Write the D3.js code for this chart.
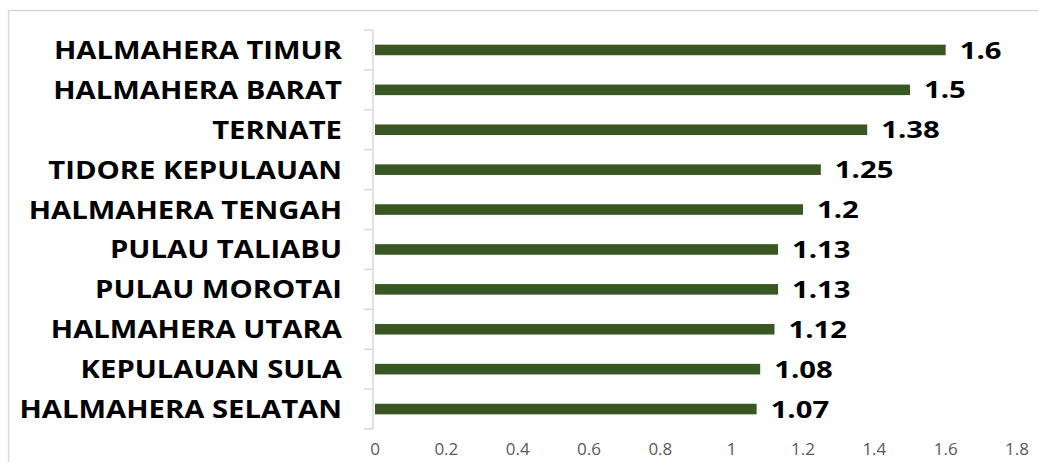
<!DOCTYPE html>
<html>
<head>
<meta charset="utf-8">
<script src="https://cdn.jsdelivr.net/npm/d3@7"></script>
<style>
  html, body { margin: 0; padding: 0; background: #fff; }
  svg { display: block; }
</style>
</head>
<body>
<div id="chart"></div>
<script>
// data, top to bottom
var regions = ["HALMAHERA TIMUR", "HALMAHERA BARAT", "TERNATE", "TIDORE KEPULAUAN", "HALMAHERA TENGAH",
  "PULAU TALIABU", "PULAU MOROTAI", "HALMAHERA UTARA", "KEPULAUAN SULA", "HALMAHERA SELATAN"];
var values = [1.6, 1.5, 1.38, 1.25, 1.2, 1.13, 1.13, 1.12, 1.08, 1.07];
var valueLabels = ["1.6", "1.5", "1.38", "1.25", "1.2", "1.13", "1.13", "1.12", "1.08", "1.07"];
var xTicks = [0, 0.2, 0.4, 0.6, 0.8, 1, 1.2, 1.4, 1.6, 1.8];

var W = 1038, H = 462,
  m = {left: 375, top: 30, right: 21, bottom: 33},
  catStretch = 1.17,   // the source labels are drawn wide
  valStretch = 1.22;

var svg = d3.select("#chart").append("svg").attr("width", W).attr("height", H);

// chart area border (runs off the picture on the right and bottom)
svg.append("rect").attr("x", 8.5).attr("y", 10.5).attr("width", W).attr("height", H)
  .style("fill", "none").style("stroke", "#d9d9d9").style("stroke-width", 1.5);

var x = d3.scaleLinear().domain([0, 1.8]).range([m.left, W - m.right]);
var y = d3.scaleBand().domain(regions).range([m.top, H - m.bottom]).paddingInner(0.735).paddingOuter(0.3675);

var bandStep = y.step();

// vertical axis line + ticks at band borders
var g = svg.append("g");
g.append("line").attr("x1", m.left - 2).attr("x2", m.left - 2)
  .attr("y1", m.top).attr("y2", H - m.bottom)
  .style("stroke", "#d9d9d9").style("stroke-width", 1.5);
d3.range(regions.length + 1).forEach(function(i){
  var yy = m.top + i * bandStep;
  g.append("line").attr("x1", m.left - 11).attr("x2", m.left - 2).attr("y1", yy).attr("y2", yy)
    .style("stroke", "#d9d9d9").style("stroke-width", 1.5);
});

// bars
svg.selectAll("rect.bar").data(values).enter().append("rect").classed("bar", true)
  .attr("x", x(0))
  .attr("y", function(d, i){ return y(regions[i]); })
  .attr("width", function(d){ return x(d) - x(0); })
  .attr("height", y.bandwidth())
  .style("fill", "#385723");

// category labels
svg.selectAll("text.cat").data(regions).enter().append("text").classed("cat", true)
  .attr("transform", function(d){ return "translate(342," + (y(d) + y.bandwidth() / 2) + ") scale(" + catStretch + ",1)"; })
  .attr("dy", "0.36em")
  .attr("text-anchor", "end")
  .style("font-family", "'Open Sans', sans-serif").style("font-weight", 700)
  .style("font-size", "25px").style("fill", "#000")
  .text(function(d){ return d; });

// value labels
svg.selectAll("text.val").data(values).enter().append("text").classed("val", true)
  .attr("transform", function(d, i){ return "translate(" + (x(d) + 14) + "," + (y(regions[i]) + y.bandwidth() / 2) + ") scale(" + valStretch + ",1)"; })
  .attr("dy", "0.36em")
  .style("font-family", "'Open Sans', sans-serif").style("font-weight", 700)
  .style("font-size", "24px").style("fill", "#000")
  .text(function(d, i){ return valueLabels[i]; });

// x tick labels (no axis line)
svg.selectAll("text.tick").data(xTicks).enter().append("text").classed("tick", true)
  .attr("x", function(d){ return x(d); })
  .attr("y", 449)
  .attr("dy", "0.36em")
  .attr("text-anchor", "middle")
  .style("font-family", "'Open Sans', sans-serif").style("font-weight", 400)
  .style("font-size", "17px").style("fill", "#595959")
  .text(function(d){ return d3.format("~g")(d); });
</script>
</body>
</html>
